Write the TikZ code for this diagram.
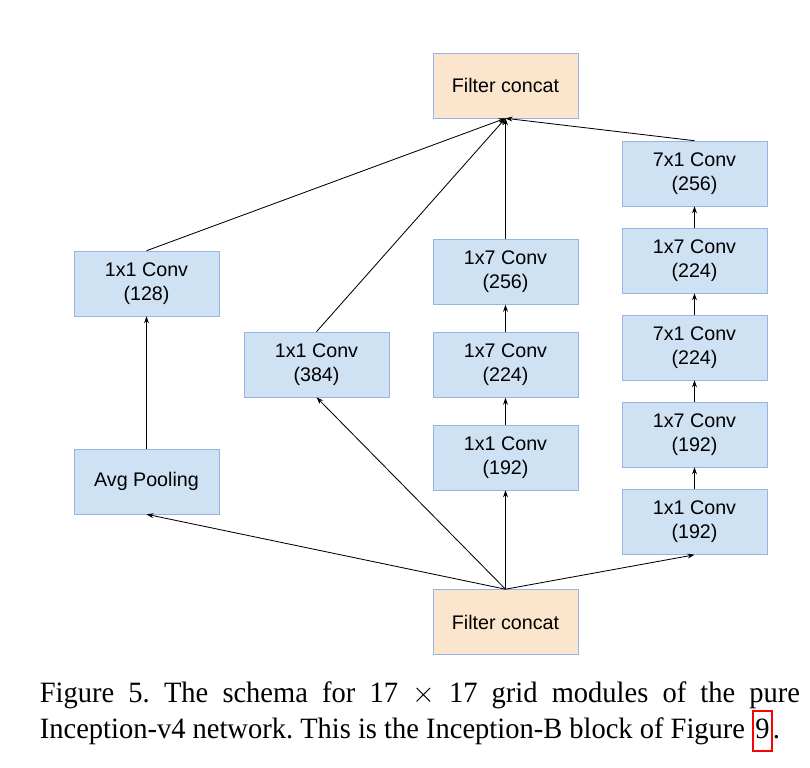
\documentclass[tikz,border=0pt]{standalone}
\usepackage{fontspec}
\setmainfont{Liberation Serif}
\setsansfont{Liberation Sans}
\usepackage{xcolor}
\usepackage{tikz}
\usetikzlibrary{arrows.meta}
\definecolor{convblue}{RGB}{207,226,243}
\definecolor{concatpeach}{RGB}{252,229,205}
\definecolor{boxedge}{RGB}{150,180,230}
\newfontfamily\capfont[FakeStretch=0.965]{Liberation Serif}
\tikzset{
  convbox/.style={draw=boxedge, fill=convblue, minimum width=3.625cm, minimum height=1.625cm,
    align=center, font=\sffamily\fontsize{14}{17}\selectfont, inner sep=1pt},
  concatbox/.style={convbox, fill=concatpeach},
  flowedge/.style={draw=black, line width=0.6pt, -{Stealth[length=5pt,width=3.5pt]}}
}
\newcommand{\figlink}[1]{{\setlength{\fboxsep}{1pt}\setlength{\fboxrule}{1.3pt}\fcolorbox{red}{white}{\strut#1}}}

\begin{document}
\frenchspacing
\begin{tikzpicture}[x=0.025cm, y=-0.025cm]
  \useasboundingbox (0,0) rectangle (810,768);
  \node[concatbox] (top) at (505.5, 85.5) {Filter concat};
  \node[concatbox] (bot) at (505.5, 622)  {Filter concat};
  % pooling branch
  \node[convbox] (pool) at (146.5, 481.5) {Avg Pooling};
  \node[convbox] (a1)   at (146.5, 283.5) {1x1 Conv\\(128)};
  % single 1x1
  \node[convbox] (b1)   at (316.5, 364.5) {1x1 Conv\\(384)};
  % 1x7 branch
  \node[convbox] (c1)   at (505.5, 457.5) {1x1 Conv\\(192)};
  \node[convbox] (c2)   at (505.5, 365)   {1x7 Conv\\(224)};
  \node[convbox] (c3)   at (505.5, 272)   {1x7 Conv\\(256)};
  % 7x7 branch
  \node[convbox] (d1)   at (694.5, 522)   {1x1 Conv\\(192)};
  \node[convbox] (d2)   at (694.5, 434.5) {1x7 Conv\\(192)};
  \node[convbox] (d3)   at (694.5, 347.5) {7x1 Conv\\(224)};
  \node[convbox] (d4)   at (694.5, 260.5) {1x7 Conv\\(224)};
  \node[convbox] (d5)   at (694.5, 173.5) {7x1 Conv\\(256)};
  \draw[flowedge] (bot.north)--(pool.south); \draw[flowedge] (bot.north)--(b1.south);
  \draw[flowedge] (bot.north)--(c1.south);   \draw[flowedge] (bot.north)--(d1.south);
  \draw[flowedge] (pool)--(a1);
  \draw[flowedge] (c1)--(c2); \draw[flowedge] (c2)--(c3);
  \draw[flowedge] (d1)--(d2); \draw[flowedge] (d2)--(d3);
  \draw[flowedge] (d3)--(d4); \draw[flowedge] (d4)--(d5);
  \draw[flowedge] (a1.north)--(top.south); \draw[flowedge] (b1.north)--(top.south);
  \draw[flowedge] (c3.north)--(top.south); \draw[flowedge] (d5.north)--(top.south);
  \node[text width=19cm, align=justify, inner sep=0pt, font=\capfont\fontsize{21}{25}\selectfont] (caption) at (420, 717)
    {Figure 5. The schema for 17 $\times$ 17 grid modules of the pure\linebreak
     Inception-v4 network. This is the Inception-B block of Figure~\figlink{9}.};
\end{tikzpicture}
\end{document}
